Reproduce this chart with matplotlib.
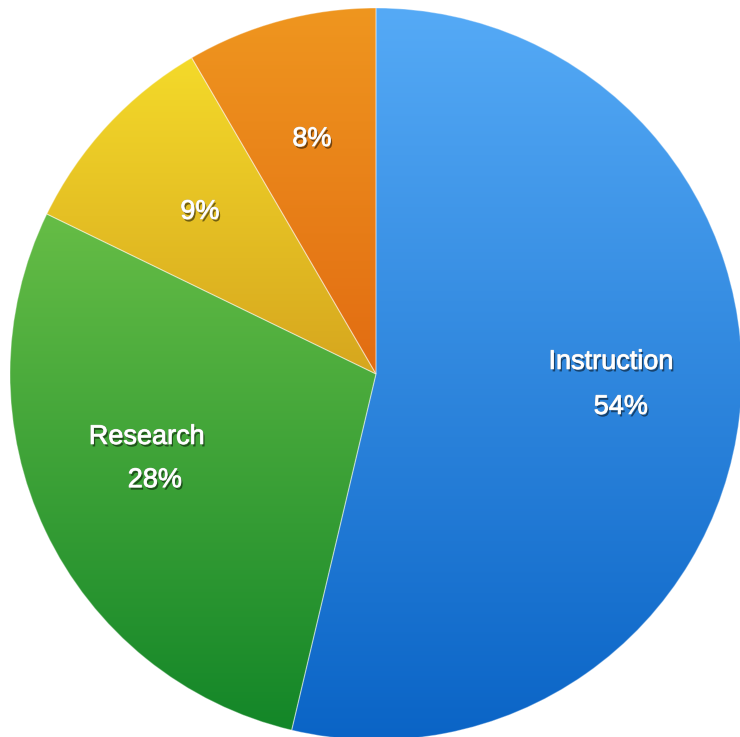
import numpy as np
import matplotlib
matplotlib.use("Agg")
import matplotlib.pyplot as plt
import matplotlib.patheffects as pe
from matplotlib.colors import LinearSegmentedColormap

# data
categories = ['Instruction', 'Research', '', '']
shares = [53.7, 28.5, 9.4, 8.4]
pct_labels = ['54%', '28%', '9%', '8%']
top_colors = ['#55aaf6', '#66bd46', '#f4da2a', '#ef961f']
bottom_colors = ['#0a64c6', '#138628', '#d6a61e', '#e26c12']

fig = plt.figure(figsize=(7.4, 7.37), dpi=100)
ax = fig.add_axes([0, 0, 1, 1])

# 饼图, 顺时针, 从正上方开始
wedges, _ = ax.pie(shares, startangle=90, counterclock=False, radius=1,
                   colors=top_colors,
                   wedgeprops=dict(edgecolor=(1, 1, 1, 0.35), linewidth=0.8))

# 每块用竖直渐变填充
for w, c1, c2 in zip(wedges, top_colors, bottom_colors):
    cmap = LinearSegmentedColormap.from_list('g', [c2, c1])
    grad = np.linspace(0, 1, 256).reshape(-1, 1)
    bb = w.get_path().get_extents()
    im = ax.imshow(grad, cmap=cmap, origin='lower', aspect='auto',
                   extent=[-1.0, 1.0, bb.y0, bb.y1], zorder=1,
                   interpolation='bilinear')
    im.set_clip_path(w)
    w.set_facecolor('none')
    w.set_zorder(2)

# 标签位置 (以半径为单位): 名称 和 百分比 分开放
name_pos = [(0.642, 0.033), (-0.626, -0.172), None, None]
pct_pos = [(0.669, -0.090), (-0.604, -0.290), (-0.481, 0.443), (-0.175, 0.642)]
shadow = [pe.SimplePatchShadow(offset=(1.2, -1.8), shadow_rgbFace='#000000', alpha=0.5),
          pe.withStroke(linewidth=0.7, foreground='#cfcfcf'), pe.Normal()]
for name, pct, npos, ppos in zip(categories, pct_labels, name_pos, pct_pos):
    if name:
        ax.text(npos[0], npos[1], name, ha='center', va='center', color='white',
                fontsize=19.5, family='Liberation Sans',
                path_effects=shadow, zorder=5)
    ax.text(ppos[0], ppos[1], pct, ha='center', va='center', color='white',
            fontsize=19.5, family='Liberation Sans',
            path_effects=shadow, zorder=5)

# 让圆心落在 (376, 374) 像素, 半径约 366 像素
ax.set_xlim(-376 / 366, (740 - 376) / 366)
ax.set_ylim(-(737 - 374) / 366, 374 / 366)
ax.set_aspect('auto')
ax.axis('off')

fig.savefig('out.png', dpi=100)
